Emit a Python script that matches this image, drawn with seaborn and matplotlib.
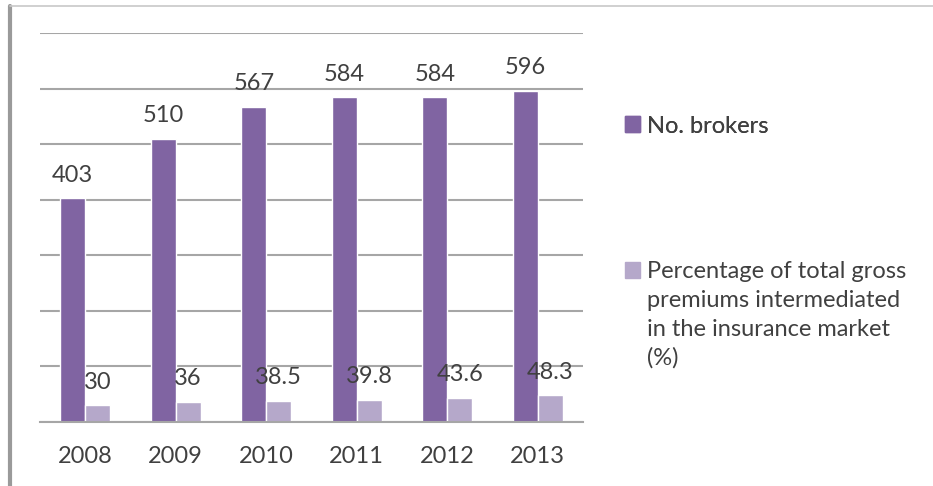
import numpy as np
import pandas as pd
import seaborn as sns
from matplotlib import pyplot as plt
from matplotlib.lines import Line2D

# values
years = ["2008", "2009", "2010", "2011", "2012", "2013"]
brokers = [403, 510, 567, 584, 584, 596]
premium_pct = [30, 36, 38.5, 39.8, 43.6, 48.3]
pct_labels = ["30", "36", "38.5", "39.8", "43.6", "48.3"]

name_brokers = "No. brokers"
name_pct_lines = ["Percentage of total gross", "premiums intermediated",
                  "in the insurance market", "(%)"]
name_pct = " ".join(name_pct_lines)

df = pd.DataFrame({
    "year": years * 2,
    "series": [name_brokers] * len(years) + [name_pct] * len(years),
    "value": brokers + premium_pct,
})

sns.set_theme(style="white")
plt.rcParams["font.family"] = ["Lato", "DejaVu Sans"]

text_col = "#404040"
grid_col = "#A6A6A6"
palette = {name_brokers: "#8064A2", name_pct: "#B5A8CA"}
fs = 17

fig = plt.figure(figsize=(9.33, 4.86), dpi=100)
ax = fig.add_axes([40 / 933, 1 - 422 / 486, 543 / 933, 389 / 486])

sns.barplot(data=df, x="year", y="value", hue="series", palette=palette,
            width=0.55, saturation=1, ax=ax, legend=False)

ax.set_ylim(0, 700)
ax.set_xlim(-0.5, 5.5)
ax.set_yticks(np.arange(0, 701, 100))
ax.set_yticklabels([])
ax.yaxis.grid(True, color=grid_col, linewidth=1.5)
ax.set_axisbelow(True)
for s in ["top", "right", "left"]:
    ax.spines[s].set_visible(False)
ax.spines["bottom"].set_color(grid_col)
ax.spines["bottom"].set_linewidth(1.5)
ax.tick_params(axis="y", length=0)
ax.tick_params(axis="x", which="major", length=0, labelsize=fs,
               labelcolor=text_col, pad=17)
ax.set_xticks(np.arange(-0.5, 6, 1), minor=True)
ax.tick_params(axis="x", which="minor", length=6, width=1.2, color=grid_col)
ax.set_xlabel("")
ax.set_ylabel("")

# value labels
ax.bar_label(ax.containers[0], labels=[str(v) for v in brokers],
             padding=9, fontsize=fs, color=text_col)
ax.bar_label(ax.containers[1], labels=pct_labels,
             padding=9, fontsize=fs, color=text_col)

# legend, two separate blocks like the original
legend_kw = dict(loc="center left", frameon=False, fontsize=fs,
                 handlelength=0.65, handleheight=0.65, handletextpad=0.3,
                 labelcolor=text_col, borderpad=0, borderaxespad=0)
h1 = [plt.Rectangle((0, 0), 1, 1, color=palette[name_brokers])]
h2 = [plt.Rectangle((0, 0), 1, 1, color=palette[name_pct])]
leg1 = fig.legend(h1, [name_brokers],
                  bbox_to_anchor=(625 / 933, 1 - 126 / 486), **legend_kw)
leg2 = fig.legend(h2, [name_pct_lines[0]],
                  bbox_to_anchor=(625 / 933, 1 - 272 / 486), **legend_kw)
fig.add_artist(leg1)

# remaining lines of the wrapped legend label, under its first line
fig.canvas.draw()
bb = leg2.get_texts()[0].get_window_extent()
x0 = bb.x0 / fig.bbox.width
for i, line in enumerate(name_pct_lines[1:], start=1):
    yc = (bb.y0 + bb.y1) / 2 - i * 28.5
    fig.text(x0, yc / fig.bbox.height, line, fontsize=fs, color=text_col,
             ha="left", va="center")

# frame edges of the original screenshot
fig.add_artist(Line2D([10 / 933, 10 / 933], [0, 1 - 6 / 486],
                      color="#9A9A9A", linewidth=3, transform=fig.transFigure))
fig.add_artist(Line2D([10 / 933, 1], [1 - 6 / 486, 1 - 6 / 486],
                      color="#C8C8C8", linewidth=1.2, transform=fig.transFigure))

fig.savefig("out.png", dpi=100)
